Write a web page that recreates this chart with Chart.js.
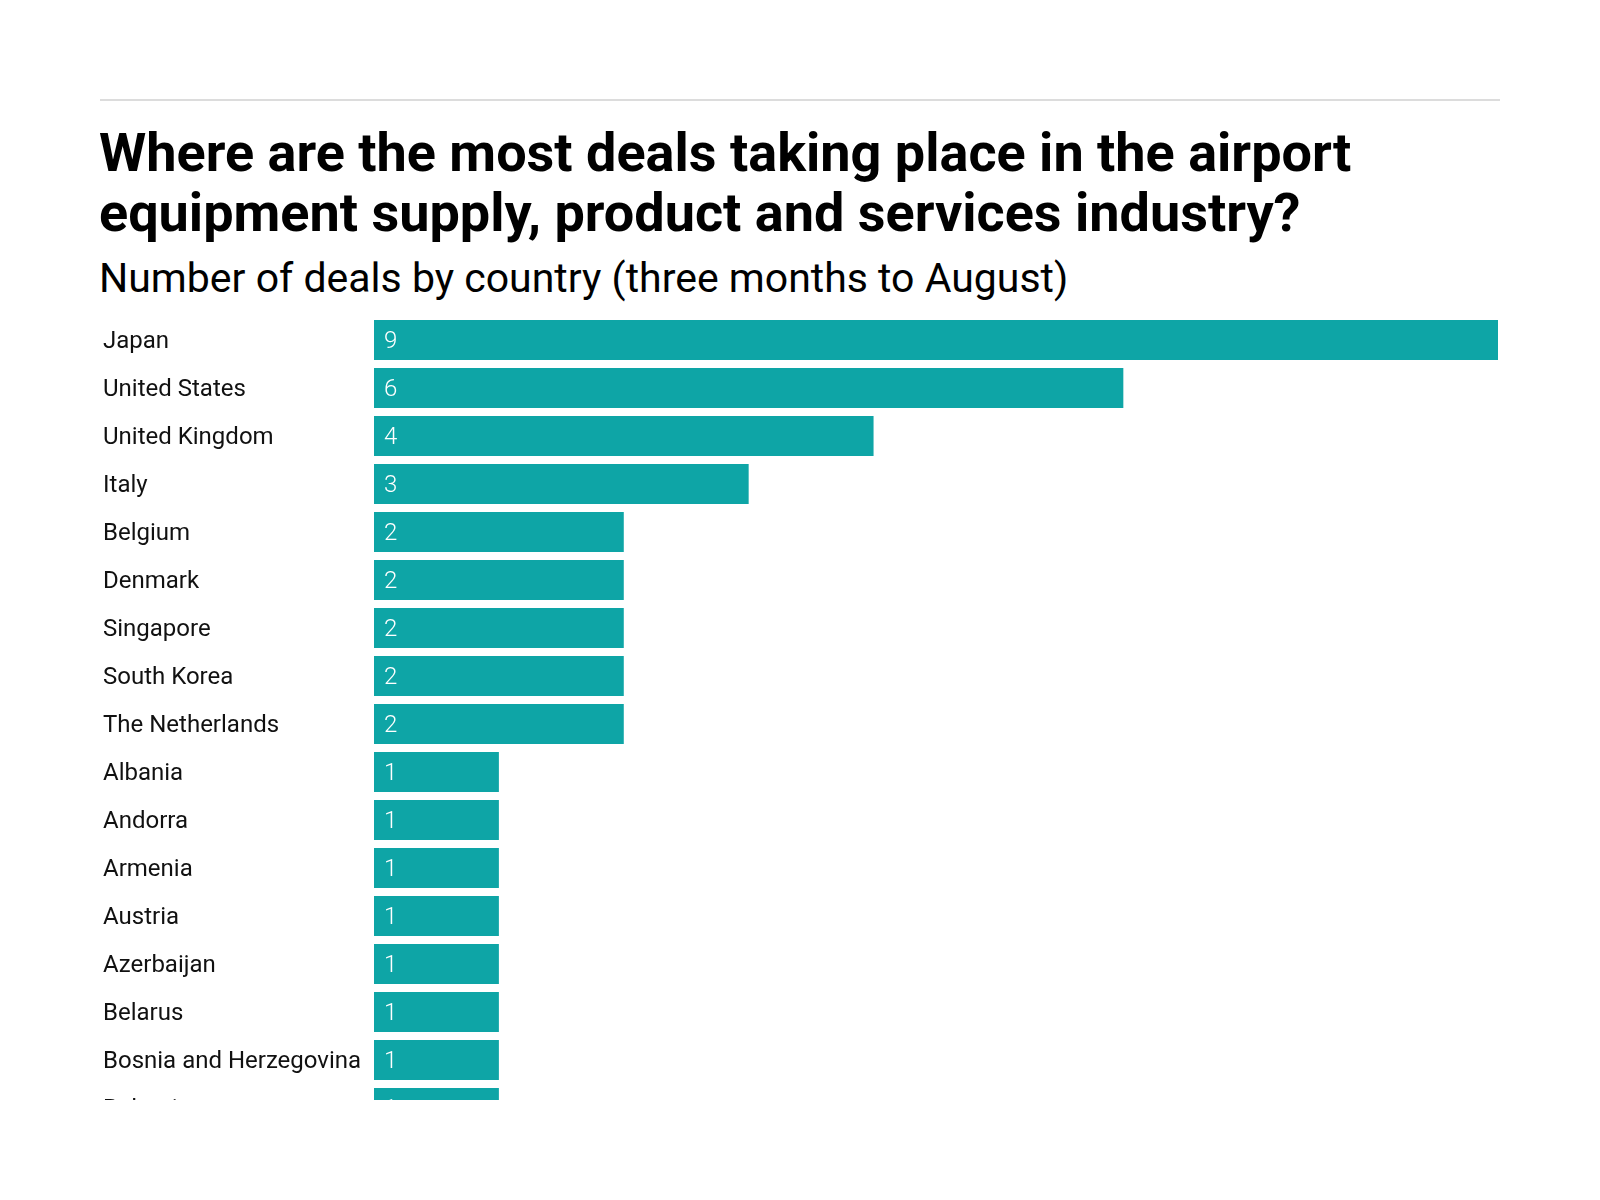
<!DOCTYPE html>
<html>
<head>
<meta charset="utf-8">
<script src="https://cdn.jsdelivr.net/npm/chart.js@4.4.0/dist/chart.umd.min.js"></script>
<style>
  body { margin: 0; background: #fff; font-family: 'Roboto', sans-serif; color: #111; }
  #rule { position: absolute; left: 100px; top: 99px; width: 1400px; height: 2px; background: #dcdcdc; }
  #title { position: absolute; left: 99px; top: 123px; margin: 0; font-size: 54px; font-weight: 700; line-height: 60px; color: #000; white-space: nowrap; }
  #subtitle { position: absolute; left: 99px; top: 255px; margin: 0; font-size: 41px; font-weight: 400; line-height: 46px; color: #000; white-space: nowrap; }
  #chart-container { position: absolute; left: 100px; top: 316px; width: 1400px; height: 784px; overflow: hidden; }
</style>
</head>
<body>
<div id="rule"></div>
<h1 id="title">Where are the most deals taking place in the airport<br>equipment supply, product and services industry?</h1>
<h2 id="subtitle">Number of deals by country (three months to August)</h2>
<div id="chart-container"><canvas id="deals-chart" width="1400" height="816"></canvas></div>
<script>
const countries = ["Japan", "United States", "United Kingdom", "Italy", "Belgium", "Denmark", "Singapore",
    "South Korea", "The Netherlands", "Albania", "Andorra", "Armenia", "Austria", "Azerbaijan", "Belarus",
    "Bosnia and Herzegovina", "Bulgaria"];
const deals = [9, 6, 4, 3, 2, 2, 2, 2, 2, 1, 1, 1, 1, 1, 1, 1, 1];
const xMax = 9;

// writes the count just inside the left end of each bar
const valueLabels = {
    id: 'valueLabels',
    afterDatasetsDraw(chart) {
        const ctx = chart.ctx;
        const meta = chart.getDatasetMeta(0);
        ctx.save();
        ctx.fillStyle = '#ffffff';
        ctx.font = '300 24px Roboto';
        ctx.textAlign = 'left';
        ctx.textBaseline = 'middle';
        meta.data.forEach((bar, i) => {
            ctx.fillText(String(deals[i]), bar.base + 10, bar.y + 2);
        });
        ctx.restore();
    }
};

const ctx = document.getElementById("deals-chart").getContext('2d');
new Chart(ctx, {
    type: 'bar',
    data: {
        labels: countries,
        datasets: [{
            label: "Deals",
            data: deals,
            backgroundColor: "#0ea5a6",
            categoryPercentage: 1,
            barPercentage: 40 / 48,
        }]
    },
    options: {
        indexAxis: 'y',
        responsive: false,
        animation: false,
        layout: {
            padding: { left: 3, right: 2, top: 0, bottom: 0 },
        },
        plugins: {
            legend: { display: false },
            tooltip: { enabled: false },
        },
        scales: {
            x: {
                display: false,
                min: 0,
                max: xMax,
            },
            y: {
                grid: { display: false },
                border: { display: false },
                afterFit: (scale) => {
                    scale.width = 271;
                    // labels sit mid-band, so no extra room needed above/below
                    scale.paddingTop = 0;
                    scale.paddingBottom = 0;
                },
                ticks: {
                    crossAlign: 'far',
                    color: '#111',
                    padding: 0,
                    labelOffset: 2,
                    font: { size: 24, family: 'Roboto' },
                },
            }
        }
    },
    plugins: [valueLabels]
});
</script>
</body>
</html>
